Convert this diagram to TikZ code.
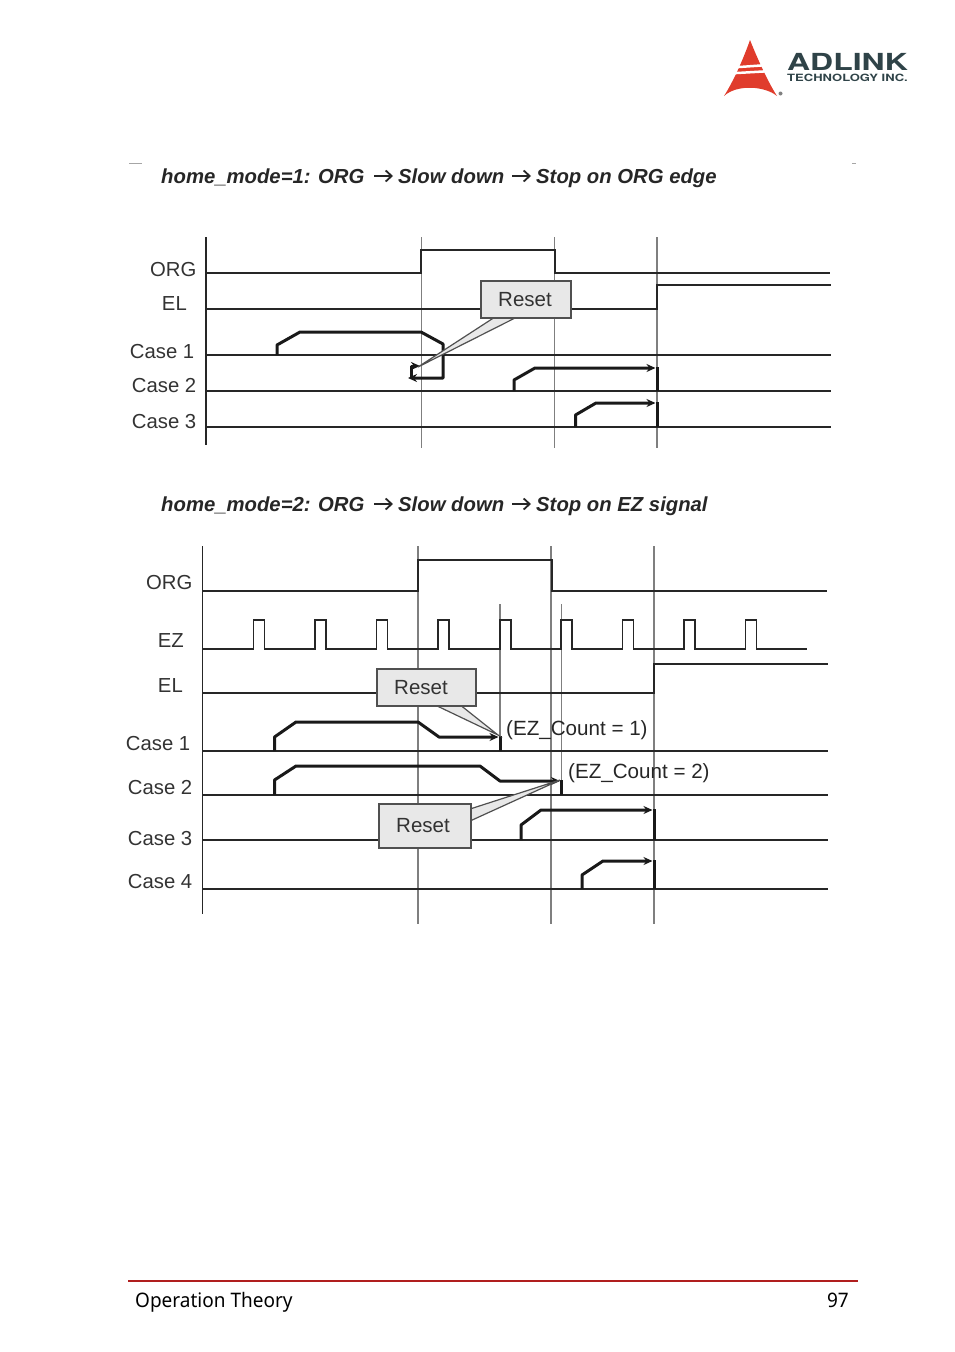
\documentclass[tikz,border=0pt]{standalone}
\usepackage{fontspec}
\usetikzlibrary{arrows.meta}
\setmainfont{Liberation Sans}
\newfontfamily\footfont[FakeStretch=0.95]{Noto Sans}
\newfontfamily\logofont{TeX Gyre Heros}
\definecolor{guidegray}{HTML}{7F7F7F}
\definecolor{calloutfill}{HTML}{E8E8E8}
\definecolor{calloutedge}{HTML}{505050}
\definecolor{footred}{HTML}{B01E1E}
\definecolor{logored}{HTML}{E03C2C}
\definecolor{logoink}{HTML}{2F4348}
\tikzset{
  wave/.style={line width=1.7pt, black!85},
  guide/.style={line width=1.4pt, guidegray},
  speed/.style={line width=3pt, black!90, line join=round},
  speedtip/.style={speed, -{Stealth[length=9pt, width=8pt]}},
  pointer/.style={fill=calloutfill, draw=calloutedge, line width=1.2pt},
  callout/.style={draw=calloutedge, fill=calloutfill, line width=2pt, minimum height=37pt, inner sep=0pt,
    font=\fontsize{20.5}{24}\selectfont, text=black!80},
  siglabel/.style={anchor=east, inner sep=0pt, font=\fontsize{20.3}{24}\selectfont, text=black!80},
  counttext/.style={anchor=west, inner sep=0pt, font=\fontsize{20.6}{24}\selectfont, text=black!85},
  headline/.style={anchor=base west, inner sep=0pt, font=\fontsize{20.3}{24}\selectfont\bfseries\itshape, text=black!85},
  headarrow/.style={line width=1.8pt, black!85, -{Straight Barb[length=6pt, width=11pt]}},
  foottext/.style={anchor=base, inner sep=0pt, font=\footfont\fontsize{20}{24}\selectfont},
}
\begin{document}
\begin{tikzpicture}[x=1pt, y=-1pt]
    \useasboundingbox (0,0) rectangle (954,1352);

    % logo
    \fill[logored] (750,40) .. controls (758,60) and (768,82) .. (777,96) .. controls (765,86) and (737,84) .. (724,96) .. controls (733,82) and (743,60) .. cycle;
    \fill[white] (736,66) -- (764,64) -- (765,66.5) -- (735,68.5) -- cycle;
    \fill[white] (733,72) -- (767,70) -- (768,72.5) -- (732,74.5) -- cycle;
    \fill[black!50] (780.5,93.5) circle (2pt);
    \node[transform shape, xscale=1.36, inner sep=0pt, text=logoink, font=\logofont\fontsize{23.5}{24}\selectfont\bfseries] (logoname) at (847.5,62) {ADLINK};
    \node[transform shape, xscale=1.3, inner sep=0pt, text=logoink, font=\logofont\fontsize{10}{11}\selectfont\bfseries] (logosub) at (847.5,77.5) {TECHNOLOGY INC.};

    % page marks
    \draw[line width=1pt, black!35] (129,163) -- (142,163);
    \draw[line width=1pt, black!35] (852,163) -- (856,163);

    % first chart
    \node[headline] (title1a) at (161,183.5) {home\_mode=1: ORG};
    \node[headline] (title1b) at (398,183.5) {Slow down};
    \node[headline] (title1c) at (536,183.5) {Stop on ORG edge};
    \coordinate (a1s) at (374,176);
    \coordinate (a1e) at (393,176);
    \coordinate (a2s) at (512,176);
    \coordinate (a2e) at (531,176);
    \draw[headarrow] (a1s) -- (a1e);
    \draw[headarrow] (a2s) -- (a2e);

    \foreach \gx in {421.5,554.5,657} {
      \draw[guide] (\gx,237) -- (\gx,448);
    }
    \draw[wave] (206,237) -- (206,445);
    \draw[wave] (206,273) -- (421,273) -- (421,250) -- (555,250) -- (555,273) -- (830,273);
    \draw[wave] (206,309) -- (657,309) -- (657,285) -- (831,285);
    \foreach \by in {355,391,427} {
      \draw[wave] (206,\by) -- (831,\by);
    }
    \node[siglabel] (org1) at (196.5,269.5) {ORG};
    \node[siglabel] (el1) at (187,303.5) {EL};
    \node[siglabel] (case11) at (194.5,351.5) {Case 1};
    \node[siglabel] (case12) at (196.5,385.5) {Case 2};
    \node[siglabel] (case13) at (196.5,421.5) {Case 3};

    \draw[speedtip] (277,355) -- (277,345) -- (300,332) -- (421,332) -- (443,344) -- (443,378) -- (408,378);
    \draw[speedtip] (411,377) -- (411,366) -- (420,366);
    \draw[speedtip] (514,391) -- (514,380) -- (535,368) -- (655.5,368);
    \draw[speed] (657.5,367) -- (657.5,391);
    \draw[speedtip] (575.5,427) -- (575.5,415) -- (596,403) -- (655.5,403);
    \draw[speed] (657.5,402) -- (657.5,427);

    \coordinate (tip1) at (418,367);
    \draw[pointer] (495,317) -- (tip1) -- (517,317);
    \node[callout, minimum width=90pt] (reset1) at (526,299.5) {Reset\kern2pt};

    % second chart
    \node[headline] (title2a) at (161,511.5) {home\_mode=2: ORG};
    \node[headline] (title2b) at (398,511.5) {Slow down};
    \node[headline] (title2c) at (536,511.5) {Stop on EZ signal};
    \coordinate (a3s) at (374,504);
    \coordinate (a3e) at (393,504);
    \coordinate (a4s) at (512,504);
    \coordinate (a4e) at (531,504);
    \draw[headarrow] (a3s) -- (a3e);
    \draw[headarrow] (a4s) -- (a4e);

    \foreach \gx in {418,551,654} {
      \draw[guide] (\gx,546) -- (\gx,924);
    }
    \draw[guide] (500,604) -- (500,737);
    \draw[guide] (561.5,604) -- (561.5,781);
    \draw[wave] (202.5,546) -- (202.5,914);
    \draw[wave] (203,591) -- (418,591) -- (418,560) -- (552,560) -- (552,591) -- (827,591);
    \draw[wave] (203,649) foreach \px in {253.5,315,376.5,438,500,561,622.5,684,745.5} {
      -- (\px,649) -- (\px,620) -- (\px+11,620) -- (\px+11,649)
    } -- (807,649);
    \draw[wave] (203,693) -- (654,693) -- (654,664) -- (828,664);
    \foreach \by in {751,795,840,889} {
      \draw[wave] (203,\by) -- (828,\by);
    }
    \node[siglabel] (org2) at (192.5,582.5) {ORG};
    \node[siglabel] (ez2) at (184,640.5) {EZ};
    \node[siglabel] (el2) at (183,685.5) {EL};
    \node[siglabel] (case21) at (190.5,743.5) {Case 1};
    \node[siglabel] (case22) at (192.5,787.5) {Case 2};
    \node[siglabel] (case23) at (192.5,838.5) {Case 3};
    \node[siglabel] (case24) at (192.5,881.5) {Case 4};

    \draw[speedtip] (274.5,751) -- (274.5,737) -- (296,722) -- (418,722) -- (439,737) -- (498.5,737);
    \draw[speed] (500,736) -- (500,751);
    \draw[speedtip] (274.5,795) -- (274.5,780) -- (296,766) -- (480,766) -- (500,781) -- (560,781);
    \draw[speed] (561.5,780) -- (561.5,795);
    \draw[speedtip] (521,840) -- (521,825) -- (541,810) -- (652.5,810);
    \draw[speed] (654,809) -- (654,840);
    \draw[speedtip] (582,889) -- (582,875) -- (603,861) -- (652.5,861);
    \draw[speed] (654,860) -- (654,889);

    \coordinate (tip2) at (498,735);
    \draw[pointer] (433,704) -- (tip2) -- (459,704);
    \node[callout, minimum width=99pt] (reset2) at (426,687.5) {Reset\kern10pt};
    \coordinate (tip3) at (560,780);
    \draw[pointer] (470,809) -- (tip3) -- (470,821);
    \node[callout, minimum width=92pt, minimum height=44pt] (reset3) at (424.5,825.5) {Reset\kern3pt};

    \node[counttext] (count1) at (506,730.5) {(EZ\_Count = 1)};
    \node[counttext] (count2) at (568,773) {(EZ\_Count = 2)};

    % footer
    \draw[line width=2pt, footred] (128,1281) -- (858,1281);
    \node[foottext, anchor=base west] (footleft) at (135,1307) {Operation Theory};
    \node[foottext, anchor=base east] (footright) at (849,1307) {97};
\end{tikzpicture}
\end{document}
